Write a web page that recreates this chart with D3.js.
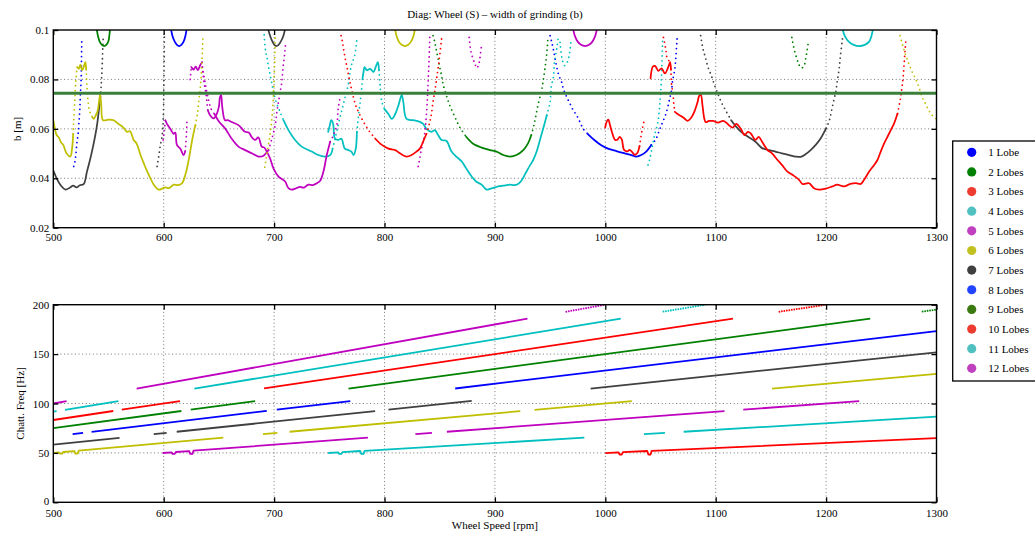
<!DOCTYPE html>
<html><head><meta charset="utf-8">
<script src="https://cdn.jsdelivr.net/npm/d3@7"></script>
<style>
body{margin:0;background:#fff;}
svg text{font-family:"Liberation Serif","Times New Roman",serif;fill:#000;}
</style></head><body>
<svg id="c" width="1035" height="534"></svg>
<script>
// ---------------- DATA ----------------
const titleText = "Diag: Wheel (S) \u2013 width of grinding (b)";
const xTicks = [500,600,700,800,900,1000,1100,1200,1300];
const yTopTicks = [0.02,0.04,0.06,0.08,0.1];
const yTopLabels = ["0.02","0.04","0.06","0.08","0.1"];
const yBotTicks = [0,50,100,150,200];
const legendLabels = ["1 Lobe","2 Lobes","3 Lobes","4 Lobes","5 Lobes","6 Lobes","7 Lobes","8 Lobes","9 Lobes","10 Lobes","11 Lobes","12 Lobes"];
const limitB = 0.0744;

// top plot: [rpm, b]
const blk1 = [[500,0.0432],[503,0.0400],[507,0.0370],[511,0.0354],[515,0.0362],[518,0.0370],[521,0.0363],[524,0.0372],[527.5,0.0376],[530.5,0.0427],[533,0.0470],[535,0.0508],[537,0.0550],[539.6,0.0615],[541,0.0665],[542.6,0.0729]];
const blk1d = [[542.6,0.0729],[543.3,0.0770],[543.8,0.0810],[544.3,0.0860],[544.8,0.0926],[545.3,0.0980]];
const blk2d = [[594,0.0448],[595.5,0.0488],[597,0.0535],[598.5,0.0568],[599.6,0.0640],[600.1,0.0760],[600.4,0.0870],[600.6,0.0975]];
const blkU = [[694.5,0.1005],[696.5,0.0975],[698.5,0.0953],[700.3,0.0940],[702,0.0935],[704,0.0940],[706,0.0953],[708.3,0.0975],[710,0.1005]];
const blk4d = [[1086.4,0.0977],[1088.5,0.0923],[1090.6,0.0890],[1093,0.0850],[1096,0.0816],[1099,0.0776],[1102,0.0742],[1105,0.0709],[1109.7,0.0669],[1114,0.0635]];
const blk4 = [[1114,0.0635],[1118.7,0.0608],[1123,0.0588],[1129.3,0.0568],[1136,0.0548],[1142,0.0522],[1148,0.0514],[1154,0.0508],[1160,0.0501],[1166.5,0.0494],[1172.5,0.0488],[1177,0.0487],[1181.6,0.0498],[1186,0.0514],[1190.6,0.0535],[1195,0.0561],[1200,0.0602]];
const blk4e = [[1200,0.0602],[1203,0.0635],[1205,0.0675],[1207,0.0716],[1208.8,0.0750],[1210,0.0790],[1211.8,0.0843],[1213,0.0897],[1214.8,0.0964]];

const grnU = [[539.3,0.1005],[540.5,0.0975],[542,0.0953],[544,0.0940],[546,0.0935],[548,0.0940],[549.8,0.0953],[550.7,0.0975],[551.4,0.1005]];
const grn2d = [[844,0.0977],[845.6,0.0950],[847,0.0917],[848.6,0.0883],[850,0.0850],[851.7,0.0816],[853,0.0783],[856,0.0736],[859,0.0696],[863.7,0.0649],[868,0.0608],[874,0.0568]];
const grn2 = [[874,0.0568],[880,0.0541],[888,0.0524],[895.5,0.0514],[901.5,0.0508],[907.5,0.0494],[913.6,0.0488],[919.6,0.0494],[925.7,0.0514],[930,0.0541],[933,0.0575]];
const grn2e = [[933,0.0575],[936,0.0628],[939,0.0696],[942.3,0.0756],[943.8,0.0796],[945.3,0.0843],[946.8,0.0897],[948,0.0964]];
const grnV = [[1169,0.0970],[1171,0.0923],[1173.4,0.0886],[1175.5,0.0859],[1177.6,0.0846],[1179.8,0.0853],[1181.6,0.0886],[1183.7,0.0944]];

const bluD = [[518.5,0.0448],[519.5,0.0465],[520.5,0.0500],[521.5,0.0548],[522.5,0.0580],[523.3,0.0630],[524,0.0675],[524.5,0.0735],[525.2,0.0800],[525.5,0.0870],[525.8,0.0970]];
const bluU = [[606.6,0.1005],[608,0.0975],[610,0.0953],[612,0.0940],[613.9,0.0935],[616,0.0940],[618,0.0953],[619.6,0.0975],[620.8,0.1005]];
const blu3d = [[950,0.0977],[951.5,0.0950],[953,0.0920],[954.5,0.0885],[956,0.0850],[958,0.0816],[960.4,0.0790],[962,0.0762],[965,0.0729],[968,0.0702],[971,0.0675],[974,0.0655],[977,0.0628],[980,0.0600],[984,0.0580]];
const blu3 = [[984,0.0580],[990,0.0555],[996,0.0535],[1002.4,0.0520],[1010,0.0510],[1017.5,0.0501],[1023.6,0.0494],[1028,0.0488],[1032.6,0.0494],[1037,0.0508],[1041.7,0.0535]];
const blu3e = [[1041.7,0.0535],[1046,0.0560],[1049,0.0595],[1052,0.0628],[1055,0.0662],[1058,0.0716],[1060,0.0756],[1061,0.0796],[1063,0.0843],[1064,0.0897],[1065,0.0964]];

const red1d = [[760.7,0.0977],[762,0.0950],[763,0.0920],[764.5,0.0883],[766,0.0850],[767.5,0.0816],[769,0.0783],[770.7,0.0750],[773.4,0.0702],[776.4,0.0669],[781,0.0628],[785.5,0.0595],[791.5,0.0561]];
const red1 = [[791.5,0.0561],[797.6,0.0535],[803.6,0.0520],[809.7,0.0514],[814,0.0501],[820,0.0488],[824.5,0.0494],[829,0.0508],[832,0.0520],[835,0.0548],[838,0.0580]];
const red1e = [[838,0.0580],[841,0.0628],[842.5,0.0660],[844,0.0710],[845.5,0.0750],[847,0.0796],[848.5,0.0843],[850,0.0897],[851.7,0.0964]];
const red2 = [[999.9,0.0605],[1001.3,0.0629],[1002.8,0.0637],[1004,0.0620],[1005.8,0.0590],[1008.8,0.0556],[1011,0.0556],[1013,0.0568],[1015,0.0556],[1017,0.0515],[1020,0.0509],[1022,0.0515],[1024.5,0.0505],[1026.7,0.0495],[1029,0.0502],[1031,0.0530]];
const red2e = [[1031,0.0530],[1032.6,0.0576],[1034,0.0610],[1035,0.0630]];
const red3 = [[1041,0.0804],[1043,0.0851],[1045,0.0855],[1048,0.0835],[1051,0.0845],[1054,0.0824],[1057,0.0850],[1058.7,0.0870],[1059.5,0.0840]];
const red3d = [[1052.7,0.0970],[1054.7,0.0924],[1056,0.0887],[1058.7,0.0870]];
const red4d = [[1059.5,0.0840],[1060,0.0780],[1061.3,0.0744],[1062,0.0703],[1063,0.0669]];
const red4 = [[1063,0.0669],[1065.5,0.0660],[1068.5,0.0652],[1071.5,0.0643],[1074.5,0.0632],[1077.5,0.0643],[1080.6,0.0669],[1083.6,0.0709],[1085,0.0733],[1086.5,0.0738],[1088,0.0696],[1089.6,0.0643],[1091,0.0627],[1094,0.0632],[1097.6,0.0632],[1102,0.0625],[1106.6,0.0632],[1109.7,0.0625],[1112.7,0.0612],[1115.5,0.0605],[1118.7,0.0620],[1123,0.0598],[1126,0.0575],[1129.3,0.0588],[1132,0.0580],[1136,0.0555],[1139,0.0568],[1142,0.0548],[1147,0.0514],[1151,0.0501],[1156,0.0474],[1160,0.0454],[1165,0.0427],[1169.5,0.0414],[1175.5,0.0394],[1178.5,0.0377],[1181.5,0.0378],[1184.6,0.0380],[1189,0.0360],[1193.7,0.0354],[1199.7,0.0358],[1205.7,0.0367],[1210,0.0374],[1216,0.0367],[1222,0.0377],[1227,0.0380],[1231.4,0.0377],[1234.4,0.0394],[1239,0.0427],[1243.5,0.0454],[1246.5,0.0474],[1249.5,0.0508],[1252.6,0.0541],[1255.6,0.0568],[1258.6,0.0595],[1261.6,0.0622],[1264.7,0.0662]];
const red4e = [[1264.7,0.0662],[1266.8,0.0709],[1267.8,0.0736],[1268.8,0.0770],[1269.8,0.0810],[1270.7,0.0863],[1271.6,0.0923],[1272.5,0.0970]];

const cyn1d = [[691,0.0980],[692.2,0.0917],[693.5,0.0890],[695,0.0850],[696.5,0.0816],[698,0.0783],[699.5,0.0750],[702.4,0.0702],[705.4,0.0669],[708.5,0.0635]];
const cyn1 = [[708.5,0.0635],[713,0.0595],[719,0.0555],[725,0.0528],[734,0.0508],[740,0.0494],[746,0.0488],[750.8,0.0494],[753,0.0520]];
const cyn1e = [[753,0.0520],[755,0.0555],[758,0.0615],[761,0.0669],[764,0.0722],[767,0.0776],[770,0.0857],[773,0.0897],[775,0.0964]];
const cyn2a = [[749,0.0588],[750.5,0.0615],[751.7,0.0635],[753.5,0.0620],[755,0.0562],[758,0.0555],[761,0.0560],[764,0.0520],[767.4,0.0514],[770,0.0508],[772,0.0494],[774,0.0520],[775,0.0588]];
const cyn2b = [[775,0.0588],[776.5,0.0655],[778,0.0709],[779,0.0750],[780,0.0800]];
const cyn2c = [[780,0.0800],[781,0.0830],[782,0.0850],[784,0.0837],[787,0.0843],[790,0.0830],[792,0.0850],[794,0.0870],[795,0.0837]];
const cyn2d = [[795,0.0837],[796,0.0776],[797.6,0.0710],[800,0.0680]];
const cyn2e = [[800,0.0680],[803.6,0.0660],[806.6,0.0640],[809.7,0.0660],[812.7,0.0696],[815.6,0.0737],[817,0.0710],[820,0.0640],[826,0.0635],[832,0.0628],[835,0.0620],[838,0.0600],[842.6,0.0588],[845.6,0.0595],[848.6,0.0575],[851.7,0.0555],[856,0.0552],[860.7,0.0508],[865,0.0488],[870,0.0468],[874,0.0440],[879,0.0407],[883,0.0387],[888,0.0374],[892.4,0.0354],[896,0.0358],[900,0.0363],[904,0.0368],[907.5,0.0370],[913.6,0.0374],[917,0.0372],[921,0.0377],[924,0.0390],[927,0.0414],[932,0.0454],[934.7,0.0474],[937.8,0.0508],[940.8,0.0555],[943.8,0.0602],[947,0.0655]];
const cyn2f = [[947,0.0655],[950,0.0709],[951,0.0770],[953,0.0810],[954,0.0870],[956,0.0923],[957.4,0.0970]];
const cyn3 = [[959,0.0950],[961,0.0880],[963,0.0856],[965,0.0865],[967,0.0890],[969,0.0955]];
const cyn4 = [[1038.7,0.0454],[1040,0.0474],[1041.7,0.0508],[1043,0.0540],[1044.7,0.0575],[1047.7,0.0628],[1049,0.0680],[1050,0.0736],[1050.8,0.0800],[1051.3,0.0870],[1052,0.0970]];
const cynU = [[1214.8,0.1005],[1217,0.0975],[1220.5,0.0953],[1225,0.0940],[1230,0.0935],[1235,0.0940],[1239,0.0953],[1241,0.0975],[1242.5,0.1005]];

const mag1a = [[599.5,0.0555],[600.5,0.0590],[601.5,0.0635]];
const mag1 = [[601.5,0.0635],[603,0.0620],[606,0.0600],[609,0.0580],[610.5,0.0585],[612,0.0535],[615,0.0520],[618,0.0494],[619.5,0.0510]];
const mag1e = [[619.5,0.0510],[620.5,0.0570],[621,0.0629]];
const mag2a = [[624,0.0800],[625,0.0850]];
const mag2 = [[625,0.0850],[627,0.0840],[629,0.0852],[631,0.0838],[633,0.0857],[634.7,0.0870]];
const mag2d = [[634.7,0.0870],[635.5,0.0830],[636.5,0.0790],[638,0.0750],[639,0.0715],[640,0.0675]];
const mag2w = [[640,0.0675],[642,0.0655],[645.3,0.0642],[648,0.0660],[650,0.0690],[651,0.0729],[652,0.0737],[653,0.0690],[655.5,0.0635],[658,0.0635],[661.5,0.0628],[667.7,0.0615],[670,0.0605],[673.7,0.0588],[677,0.0585],[680,0.0565],[682.8,0.0555],[685.8,0.0565],[688.8,0.0528],[691,0.0525],[693.4,0.0508],[696.4,0.0480],[699.4,0.0440],[704,0.0407],[707,0.0397],[710,0.0387],[713,0.0360],[716,0.0354],[719,0.0358],[723.6,0.0365],[727,0.0362],[731,0.0374],[735,0.0372],[738.7,0.0380],[741.7,0.0390],[744.7,0.0427],[747.7,0.0494],[750.8,0.0548]];
const mag2e = [[750.8,0.0548],[753.8,0.0575],[756.8,0.0615],[758,0.0680],[759.5,0.0720]];
const mag3d = [[635,0.0850],[637,0.0800],[639,0.0750],[641,0.0710],[643,0.0680],[646,0.0660]];
const mag3 = [[646,0.0660],[650,0.0630],[655.6,0.0602],[661.6,0.0560],[667.7,0.0528],[673.7,0.0514],[679.8,0.0501],[685.8,0.0488],[690,0.0490],[695,0.0514]];
const mag3e = [[695,0.0514],[698,0.0560],[701,0.0615],[702.5,0.0668],[704,0.0710],[705.5,0.0750],[707,0.0790],[708,0.0843],[709.4,0.0897],[710.5,0.0950]];
const mag4 = [[830.5,0.0448],[831.5,0.0470],[833,0.0508],[834.5,0.0540],[836,0.0570],[837.5,0.0630],[839,0.0736],[839.6,0.0800],[840.3,0.0870],[841,0.0970]];
const mag5 = [[876.7,0.0970],[878,0.0920],[880,0.0886],[882,0.0863],[883.4,0.0846],[885,0.0856],[886.4,0.0886],[888,0.0944]];
const magU = [[970.8,0.1005],[972.5,0.0975],[975,0.0953],[978,0.0940],[981.7,0.0935],[985.3,0.0940],[988.3,0.0953],[990.8,0.0975],[992.5,0.1005]];

const yel1 = [[500,0.0635],[501.5,0.0600],[503,0.0575],[505,0.0565],[507,0.0545],[509,0.0535],[512,0.0501],[515.4,0.0488],[517,0.0521],[518,0.0580]];
const yel1d = [[518,0.0580],[518.5,0.0630],[519.5,0.0720],[520.5,0.0800],[521.5,0.0850]];
const yel1b = [[521.5,0.0850],[523,0.0843],[524.5,0.0860],[526,0.0837],[527.5,0.0850],[529,0.0870],[529.8,0.0840]];
const yel1c = [[529.8,0.0840],[530.5,0.0770],[531.5,0.0709],[533,0.0670],[535,0.0650]];
const yel1e = [[535,0.0650],[536.6,0.0640],[538.5,0.0655],[540,0.0670],[542,0.0729],[542.5,0.0740],[543.5,0.0690],[545,0.0635],[550,0.0637],[554.7,0.0635],[557.5,0.0625],[560.7,0.0615],[563.5,0.0605],[566.8,0.0588],[569.5,0.0590],[572.8,0.0555],[575.5,0.0540],[578.9,0.0495],[582,0.0460],[585,0.0428],[588,0.0400],[591,0.0374],[595.5,0.0354],[598.5,0.0358],[601.5,0.0363],[605,0.0360],[609,0.0374],[613,0.0372],[616.6,0.0380],[619.6,0.0414],[622,0.0460],[624,0.0508],[626,0.0560],[628.7,0.0615]];
const yel1f = [[628.7,0.0615],[630.5,0.0660],[631.7,0.0709],[633,0.0760],[634,0.0816],[634.7,0.0880],[635.2,0.0930],[635.6,0.0980]];
const yel2 = [[691.5,0.0445],[692.5,0.0470],[693.5,0.0500],[695,0.0540],[697,0.0600],[698.5,0.0670],[699.5,0.0750],[700.5,0.0870],[701,0.0980]];
const yelU = [[809.5,0.1005],[811,0.0975],[813,0.0953],[815.5,0.0940],[818.6,0.0935],[821.5,0.0940],[824,0.0953],[826.2,0.0975],[827.6,0.1005]];
const yel4 = [[1267,0.0977],[1269,0.0944],[1270.7,0.0917],[1272.8,0.0890],[1275,0.0863],[1278,0.0830],[1281,0.0803],[1284,0.0770],[1287,0.0729],[1290,0.0702],[1293,0.0675],[1296,0.0655],[1300,0.0640]];

// bottom plot: chatter frequency segments [rpm, Hz] for each lobe count
const f3 = [[[1000,49.8],[1012,50.6],[1013,48.4],[1015,48.4],[1016,50.8],[1038,51.9],[1039,48.4],[1041,48.4],[1042,52.1],[1300,65.0]]];
const f4 = [[[749,49.9],[758,50.5],[759,49.0],[761,49.0],[762,50.8],[778,51.9],[779,49.0],[781,49.0],[782,52.1],[981,65.4]],[[1035,69.0],[1054,70.3]],[[1071,71.4],[1300,86.7]]];
const f5 = [[[599,49.9],[607,50.6],[608,49.0],[610,49.0],[611,50.9],[623,51.9],[624,49.0],[626,49.0],[627,52.2],[785,65.4]],[[828,69.0],[843,70.3]],[[856.5,71.4],[1108,92.3]],[[1125,93.8],[1230,102.5]]];
const f6 = [[[500,50.0],[505,50.5],[506,49.2],[508,49.2],[509,50.9],[519,51.9],[520,49.2],[522,49.2],[523,52.3],[654,65.4]],[[690,69.0],[703,70.3]],[[714,71.4],[923,92.3]],[[936,93.6],[1024,102.4]],[[1151,115.1],[1300,130.0]]];
const f7 = [[[500,58.3],[560,65.3]],[[591,69.0],[602.7,70.3]],[[611.8,71.4],[791.5,92.3]],[[803.6,93.8],[879,102.6]],[[986.7,115.1],[1300,151.7]]];
const f8 = [[[517.5,69.0],[527,70.3]],[[534.7,71.3],[693.4,92.5]],[[702.4,93.7],[769,102.5]],[[864,115.2],[1300,173.3]]];
const f9 = [[[500,75.0],[616,92.4]],[[624.5,93.7],[682.8,102.4]],[[767.4,115.1],[1240,186.0]],[[1286.7,193.0],[1300,195.0]]];
const f10 = [[[500,83.3],[554.3,92.4]],[[562,93.7],[614.8,102.5]],[[690.9,115.2],[1115.7,186.0]],[[1157,192.8],[1200,200.0]]];
const f11 = [[[500,91.7],[503,92.2]],[[510.6,93.6],[559,102.5]],[[627.8,115.1],[1014,185.9]],[[1052,192.9],[1091,200.0]]];
const f12 = [[[500,100.0],[512,102.4]],[[575.5,115.1],[929.5,185.9]],[[964,192.8],[1000,200.0]]];

// ---------------- DRAWING ----------------
const cB="#0000ff", cG="#008000", cR="#ff0000", cC="#00bfbf", cM="#bf00bf", cY="#bfbf00", cK="#404040";
const legendColors = ["#0000ff","#008000","#ee3b30","#50c0c0","#c040c0","#c0c020","#404040","#2244ff","#3a7a10","#ee3b30","#50c0c0","#c040c0"];

const svg = d3.select("#c");
const L=53.3, R=936.5;
const topBox = {t:30, b:227.7};
const botBox = {t:304.7, b:502.3};
const x = d3.scaleLinear().domain([500,1300]).range([L,R]);
const yT = d3.scaleLinear().domain([0.02,0.1]).range([topBox.b, topBox.t]);
const yB = d3.scaleLinear().domain([0,200]).range([botBox.b, botBox.t]);

const defs = svg.append("defs");
defs.append("clipPath").attr("id","clipT").append("rect").attr("x",L).attr("y",topBox.t).attr("width",R-L).attr("height",topBox.b-topBox.t);
defs.append("clipPath").attr("id","clipB").append("rect").attr("x",L).attr("y",botBox.t).attr("width",R-L).attr("height",botBox.b-botBox.t);

function frame(box, yScale, yTicks) {
  const g = svg.append("g");
  g.selectAll(".gx").data(xTicks.slice(1,-1)).enter().append("line")
    .attr("x1",d=>x(d)).attr("x2",d=>x(d)).attr("y1",box.t).attr("y2",box.b)
    .attr("stroke","#555").attr("stroke-width",0.8).attr("stroke-dasharray","1,2.6");
  g.selectAll(".gy").data(yTicks.slice(1,-1)).enter().append("line")
    .attr("y1",d=>yScale(d)).attr("y2",d=>yScale(d)).attr("x1",L).attr("x2",R)
    .attr("stroke","#555").attr("stroke-width",0.8).attr("stroke-dasharray","1,2.6");
}
function axes(box, yScale, yTicks, yLabels, xPad, nudgeFirst) {
  const g = svg.append("g");
  g.append("g").attr("transform",`translate(0,${box.b})`)
    .call(d3.axisBottom(x).tickValues(xTicks).tickSize(-5).tickPadding(xPad).tickFormat(d3.format("d")));
  g.append("g").attr("transform",`translate(0,${box.t})`)
    .call(d3.axisTop(x).tickValues(xTicks).tickSize(-5).tickFormat(""));
  const al = g.append("g").attr("transform",`translate(${L},0)`)
    .call(d3.axisLeft(yScale).tickValues(yTicks).tickSize(-5).tickPadding(4).tickFormat((d,i)=>yLabels[i]));
  g.append("g").attr("transform",`translate(${R},0)`)
    .call(d3.axisRight(yScale).tickValues(yTicks).tickSize(-5).tickFormat(""));
  g.selectAll(".domain").remove();
  g.selectAll(".tick line").attr("stroke","#000").attr("stroke-width",1.3);
  g.selectAll(".tick text").attr("font-size",11).attr("font-family","Liberation Serif, serif").attr("fill","#000");
  if (nudgeFirst) al.selectAll(".tick text").filter(d=>d===yTicks[0]).attr("dy","0.18em");
  g.append("rect").attr("x",L).attr("y",box.t).attr("width",R-L).attr("height",box.b-box.t)
    .attr("fill","none").attr("stroke","#000").attr("stroke-width",1.4);
}

frame(topBox, yT, yTopTicks);
frame(botBox, yB, yBotTicks);

// top curves
const lineT = d3.line().x(d=>x(d[0])).y(d=>yT(d[1])).curve(d3.curveCatmullRom.alpha(0.5));
const gT = svg.append("g").attr("clip-path","url(#clipT)");
const topCurves = [
  [blk1,cK,0],[blk1d,cK,1],[blk2d,cK,1],[blkU,cK,0],[blk4d,cK,1],[blk4,cK,0],[blk4e,cK,1],
  [grnU,cG,0],[grn2d,cG,1],[grn2,cG,0],[grn2e,cG,1],[grnV,cG,1],
  [bluD,cB,1],[bluU,cB,0],[blu3d,cB,1],[blu3,cB,0],[blu3e,cB,1],
  [cyn1d,cC,1],[cyn1,cC,0],[cyn1e,cC,1],[cyn2a,cC,0],[cyn2b,cC,1],[cyn2c,cC,0],[cyn2d,cC,1],[cyn2e,cC,0],[cyn2f,cC,1],[cyn3,cC,1],[cyn4,cC,1],[cynU,cC,0],
  [mag1a,cM,1],[mag1,cM,0],[mag1e,cM,1],[mag2a,cM,1],[mag2,cM,0],[mag2d,cM,1],[mag2w,cM,0],[mag2e,cM,1],[mag3d,cM,1],[mag3,cM,0],[mag3e,cM,1],[mag4,cM,1],[mag5,cM,1],[magU,cM,0],
  [yel1,cY,0],[yel1d,cY,1],[yel1b,cY,0],[yel1c,cY,1],[yel1e,cY,0],[yel1f,cY,1],[yel2,cY,1],[yelU,cY,0],[yel4,cY,1],
  [red1d,cR,1],[red1,cR,0],[red1e,cR,1],[red2,cR,0],[red2e,cR,1],[red3,cR,0],[red3d,cR,1],[red4d,cR,1],[red4,cR,0],[red4e,cR,1]
];
topCurves.forEach(([pts,col,dotted])=>{
  const p = gT.append("path").attr("d",lineT(pts)).attr("fill","none").attr("stroke",col)
    .attr("stroke-linejoin","round").attr("stroke-linecap","round");
  if (dotted) p.attr("stroke-width",1.8).attr("stroke-dasharray","0,4.8");
  else p.attr("stroke-width",1.75);
});
gT.append("line").attr("x1",x(500)).attr("x2",x(1300)).attr("y1",yT(limitB)).attr("y2",yT(limitB))
  .attr("stroke","#3a7f3a").attr("stroke-width",3);

// bottom segments
const lineB = d3.line().x(d=>x(d[0])).y(d=>yB(d[1]));
const gB = svg.append("g").attr("clip-path","url(#clipB)");
const freqSets = [[f3,cR],[f4,cC],[f5,cM],[f6,cY],[f7,cK],[f8,cB],[f9,cG],[f10,cR],[f11,cC],[f12,cM]];
freqSets.forEach(([segs,col])=>{
  segs.forEach(seg=>{
    const p = gB.append("path").attr("d",lineB(seg)).attr("fill","none").attr("stroke",col)
      .attr("stroke-width",1.8).attr("stroke-linejoin","round");
    if (seg[0][1] > 190) p.attr("stroke-dasharray","1.6,0.9");
  });
});

axes(topBox, yT, yTopTicks, yTopLabels, 5.5, false);
axes(botBox, yB, yBotTicks, yBotTicks.map(String), 6.5, true);

// titles
svg.append("text").attr("x",(L+R)/2).attr("y",17.5).attr("text-anchor","middle").attr("font-size",11).text(titleText);
svg.append("text").attr("transform",`translate(21,${(topBox.t+topBox.b)/2}) rotate(-90)`).attr("text-anchor","middle").attr("font-size",11).text("b [m]");
svg.append("text").attr("transform",`translate(24,${(botBox.t+botBox.b)/2}) rotate(-90)`).attr("text-anchor","middle").attr("font-size",11).text("Chatt. Freq [Hz]");
svg.append("text").attr("x",(L+R)/2).attr("y",529).attr("text-anchor","middle").attr("font-size",11).text("Wheel Speed [rpm]");

// legend
const lg = svg.append("g");
lg.append("rect").attr("x",952.7).attr("y",141).attr("width",95).attr("height",240)
  .attr("fill","#fff").attr("stroke","#000").attr("stroke-width",1.3);
const ly = d3.scalePoint().domain(legendLabels).range([152.3,368.3]);
legendLabels.forEach((lab,i)=>{
  lg.append("circle").attr("cx",971.7).attr("cy",ly(lab)).attr("r",4.6).attr("fill",legendColors[i]);
  lg.append("text").attr("x",988.3).attr("y",ly(lab)).attr("dy","0.35em").attr("font-size",11).text(lab);
});
</script>
</body></html>
